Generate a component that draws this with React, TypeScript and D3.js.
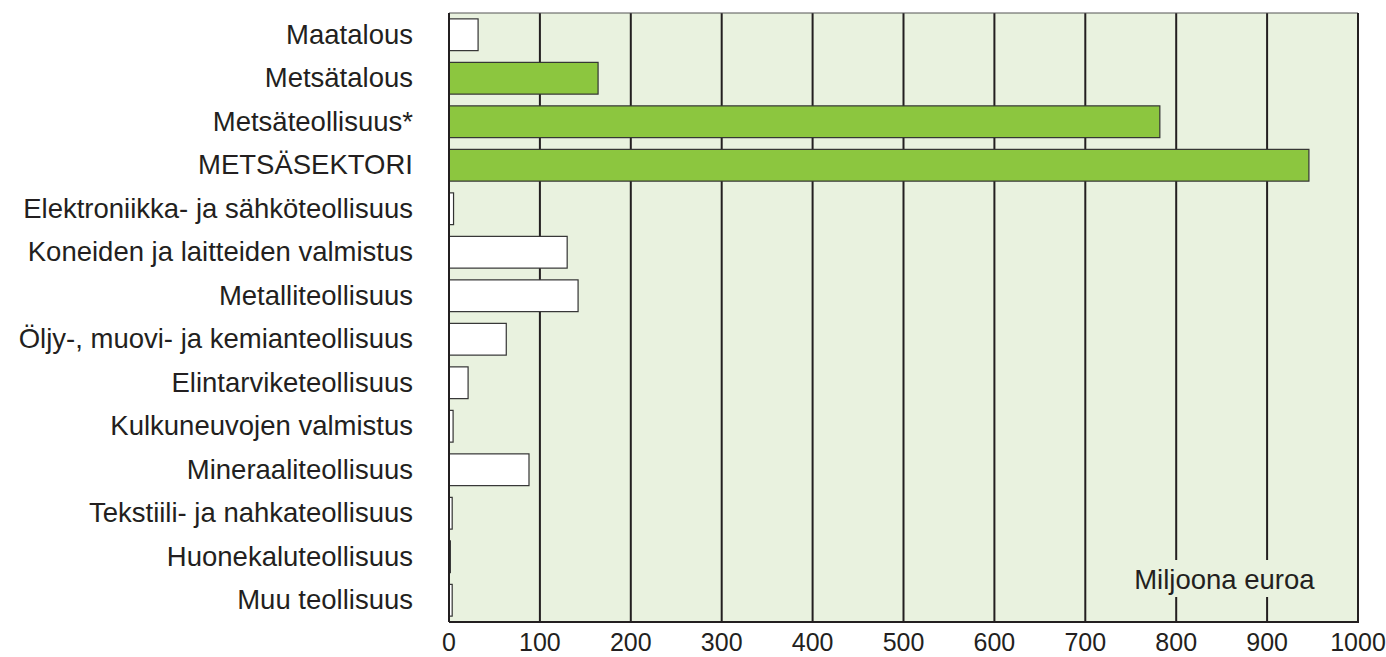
import { useEffect, useRef } from 'react'
import * as d3 from 'd3'

const categories = [
  'Maatalous',
  'Metsätalous',
  'Metsäteollisuus*',
  'METSÄSEKTORI',
  'Elektroniikka- ja sähköteollisuus',
  'Koneiden ja laitteiden valmistus',
  'Metalliteollisuus',
  'Öljy-, muovi- ja kemianteollisuus',
  'Elintarviketeollisuus',
  'Kulkuneuvojen valmistus',
  'Mineraaliteollisuus',
  'Tekstiili- ja nahkateollisuus',
  'Huonekaluteollisuus',
  'Muu teollisuus',
]
const values = [32, 164, 782, 946, 5, 130, 142, 63, 21, 4.5, 88, 3.5, 1.5, 3.5]
const forestSector = ['Metsätalous', 'Metsäteollisuus*', 'METSÄSEKTORI']
const ticks = [0, 100, 200, 300, 400, 500, 600, 700, 800, 900, 1000]
const unitLabel = 'Miljoona euroa'

const font = '"Liberation Sans", Arial, sans-serif'

const App = () => {
  const svgRef = useRef<SVGSVGElement | null>(null)

  useEffect(() => {
    if (!svgRef.current) return
    const margin = { top: 13, right: 28, bottom: 35, left: 449 }
    const W = 1386
    const H = 657
    const width = W - margin.left - margin.right
    const height = H - margin.top - margin.bottom

    const root = d3.select(svgRef.current)
    root.selectAll('*').remove()
    const svg = root.append('g').attr('transform', `translate(${margin.left},${margin.top})`)

    const x = d3.scaleLinear().domain([0, 1000]).range([0, width])
    const y = d3.scaleBand().domain(categories).range([0, height]).paddingInner(0.27).paddingOuter(0.135)

    // background
    svg.append('rect').attr('width', width).attr('height', height).attr('fill', '#e9f2df')

    // gridlines
    svg.selectAll('.grid').data(ticks.slice(1, -1)).enter().append('line')
      .attr('x1', (d) => x(d)).attr('x2', (d) => x(d))
      .attr('y1', 0).attr('y2', height)
      .attr('stroke', '#231f20').attr('stroke-width', 2)

    // unit label, gridlines break behind it
    const lx = x(853)
    svg.append('rect').attr('x', lx - 95).attr('y', 547).attr('width', 190).attr('height', 37).attr('fill', '#e9f2df')
    svg.append('text').attr('x', lx).attr('y', 576).attr('text-anchor', 'middle')
      .style('font-family', font).style('font-size', '27.5px').attr('fill', '#231f20')
      .text(unitLabel)

    // frame
    svg.append('line').attr('x1', 0).attr('x2', width).attr('y1', 0).attr('y2', 0).attr('stroke', '#555').attr('stroke-width', 1.2)
    svg.append('line').attr('x1', width).attr('x2', width).attr('y1', 0).attr('y2', height).attr('stroke', '#231f20').attr('stroke-width', 2)

    // bars
    svg.selectAll('.bar').data(categories).enter().append('rect')
      .attr('x', 0)
      .attr('y', (d) => y(d)!)
      .attr('width', (d, i) => x(values[i]))
      .attr('height', y.bandwidth())
      .attr('fill', (d) => (forestSector.includes(d) ? '#8cc63f' : '#ffffff'))
      .attr('stroke', '#333')
      .attr('stroke-width', 1.2)

    // axes
    svg.append('line').attr('x1', 0).attr('x2', 0).attr('y1', 0).attr('y2', height).attr('stroke', '#231f20').attr('stroke-width', 2)
    svg.append('line').attr('x1', 0).attr('x2', width + 1).attr('y1', height).attr('y2', height).attr('stroke', '#231f20').attr('stroke-width', 2)

    svg.selectAll('.tick').data(ticks).enter().append('text')
      .attr('x', (d) => x(d)).attr('y', height + 29)
      .attr('text-anchor', 'middle')
      .style('font-family', font).style('font-size', '25px').attr('fill', '#231f20')
      .text((d) => d)

    svg.selectAll('.cat').data(categories).enter().append('text')
      .attr('x', -36).attr('y', (d) => y(d)! + y.bandwidth() / 2 + 9)
      .attr('text-anchor', 'end')
      .style('font-family', font).style('font-size', '27.5px').attr('fill', '#231f20')
      .text((d) => d)
  }, [])

  return (
    <div style={{ position: 'absolute', left: 0, top: 0 }}>
      <svg ref={svgRef} width={1386} height={657} style={{ display: 'block', background: '#fff' }} />
    </div>
  )
}

export default App
